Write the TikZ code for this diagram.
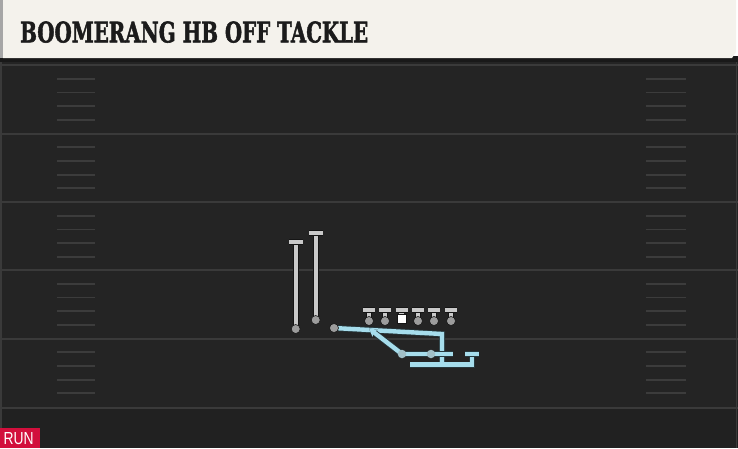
\documentclass[tikz,border=0pt]{standalone}
\usepackage{fontspec}
\usepackage{graphicx}
\newfontfamily\titlefont[FakeBold=2]{DejaVu Serif}
\newfontfamily\runfont{Liberation Sans}
\usetikzlibrary{arrows.meta}
\definecolor{cream}{HTML}{F4F2EC}
\definecolor{field}{HTML}{242424}
\definecolor{fieldlow}{HTML}{212121}
\definecolor{yardline}{HTML}{3A3A3A}
\definecolor{hashc}{HTML}{3C3C3C}
\definecolor{barfill}{HTML}{C9C9C9}
\definecolor{barline}{HTML}{151515}
\definecolor{dotfill}{HTML}{9C9C9C}
\definecolor{routeblue}{HTML}{A6DDEC}
\definecolor{routeedge}{HTML}{27383D}
\definecolor{runred}{HTML}{D20F3C}
\definecolor{titleink}{HTML}{1B1B1B}
\tikzset{
  yard/.style={draw=yardline, line width=2pt},
  hashmark/.style={draw=hashc, line width=1.8pt},
  pbar/.style={draw=barfill, line width=4.2pt, preaction={draw=barline, line width=5.8pt}},
  pdot/.style={circle, fill=dotfill, draw=barline, line width=0.6pt, minimum size=9pt, inner sep=0pt},
  rdot/.style={circle, fill=routeblue!55!dotfill, draw=none, minimum size=8.5pt, inner sep=0pt},
  route/.style={draw=routeblue, line width=4.4pt, preaction={draw=routeedge, line width=6pt}},
}
\begin{document}
\begin{tikzpicture}[x=1pt,y=-1pt]
\useasboundingbox (0,0) rectangle (738,448);
% field
\fill[field] (0,58) rectangle (738,448);
\fill[fieldlow] (0,408) rectangle (738,448);
\draw[draw=yardline, line width=1.5pt] (1,60) -- (1,448);
\draw[draw=yardline, line width=1.5pt] (736.5,60) -- (736.5,448);
% yard lines
\foreach \y in {65,133.5,202,270,338.5,407.5}{
  \draw[yard] (0,\y) -- (738,\y);
}
% hash marks
\foreach \y in {65,133.5,202,270,338.5}{
  \foreach \k in {1,2,3,4}{
    \draw[hashmark] (57,\y+13.7*\k) -- (95,\y+13.7*\k);
    \draw[hashmark] (646,\y+13.7*\k) -- (686,\y+13.7*\k);
  }
}
% header
\fill[black!90] (0,56) rectangle (738,62);
\fill[black!35] (0,0) rectangle (4,58);
\fill[cream] (3,0) -- (736,0) -- (736,52) -- (732,58) -- (3,58) -- cycle;
\node[anchor=south west, inner sep=0pt, text=titleink] (title) at (20,43)
  {\resizebox{348pt}{21pt}{\titlefont\bfseries BOOMERANG HB OFF TACKLE}};
% RUN label
\node[fill=runred, anchor=north west, minimum width=40pt, minimum height=20pt, inner sep=0pt] (runbox) at (0,428) {};
\node[anchor=south west, inner sep=0pt, text=white] (runtext) at (3.5,445)
  {\resizebox{30pt}{12pt}{\runfont RUN}};
% receivers
\coordinate (w1) at (295.7,329);
\coordinate (w1top) at (295.7,242);
\coordinate (w1l) at (289,242);
\coordinate (w1r) at (302.5,242);
\coordinate (w2) at (315.7,320);
\coordinate (w2top) at (315.7,233);
\coordinate (w2l) at (309,233);
\coordinate (w2r) at (322.5,233);
\draw[pbar] (w1) -- (w1top);
\draw[pbar] (w1l) -- (w1r);
\draw[pbar] (w2) -- (w2top);
\draw[pbar] (w2l) -- (w2r);
\node[pdot] (wr1) at (w1) {};
\node[pdot] (wr2) at (w2) {};
% linemen
\foreach \n/\x in {lt/369,lg/385,rg/418,rt/434,te/451}{
  \coordinate (\n top) at (\x,310);
  \coordinate (\n l) at (\x-6,310);
  \coordinate (\n r) at (\x+6,310);
  \draw[pbar] (\n top) -- (\x,320);
  \draw[pbar] (\n l) -- (\n r);
  \node[pdot] (\n) at (\x,321) {};
}
\coordinate (ctop) at (401.5,310);
\coordinate (cl) at (395.5,310);
\coordinate (cr) at (407.5,310);
\draw[pbar] (ctop) -- (401.5,315);
\draw[pbar] (cl) -- (cr);
\node[fill=white, draw=barline, line width=0.6pt, minimum width=9pt, minimum height=9pt, inner sep=0pt, anchor=north] (c) at (401.5,313.5) {};
% backs
\coordinate (hbpos) at (334,328);
\coordinate (qbpos) at (402,354);
\coordinate (fbpos) at (431,354);
% routes
\coordinate (r1a) at (442,334);
\coordinate (r1b) at (442,364);
\coordinate (r2a) at (410,364.5);
\coordinate (r2b) at (472,364.5);
\coordinate (r2c) at (472,354);
\coordinate (capl) at (465,354);
\coordinate (capr) at (478.5,354);
\coordinate (r3) at (453,354);
\coordinate (handoff) at (369,328.5);
\draw[route, line join=miter] (hbpos) -- (r1a) -- (r1b);
\draw[route, line join=miter] (r2a) -- (r2b) -- (r2c);
\draw[route] (capl) -- (capr);
\draw[route] (qbpos) -- (r3);
\draw[route, -{Stealth[length=8pt,width=9pt]}] (qbpos) -- (handoff);
\node[pdot] (hb) at (hbpos) {};
\node[rdot] (qb) at (qbpos) {};
\node[rdot] (fb) at (fbpos) {};
\end{tikzpicture}
\end{document}
